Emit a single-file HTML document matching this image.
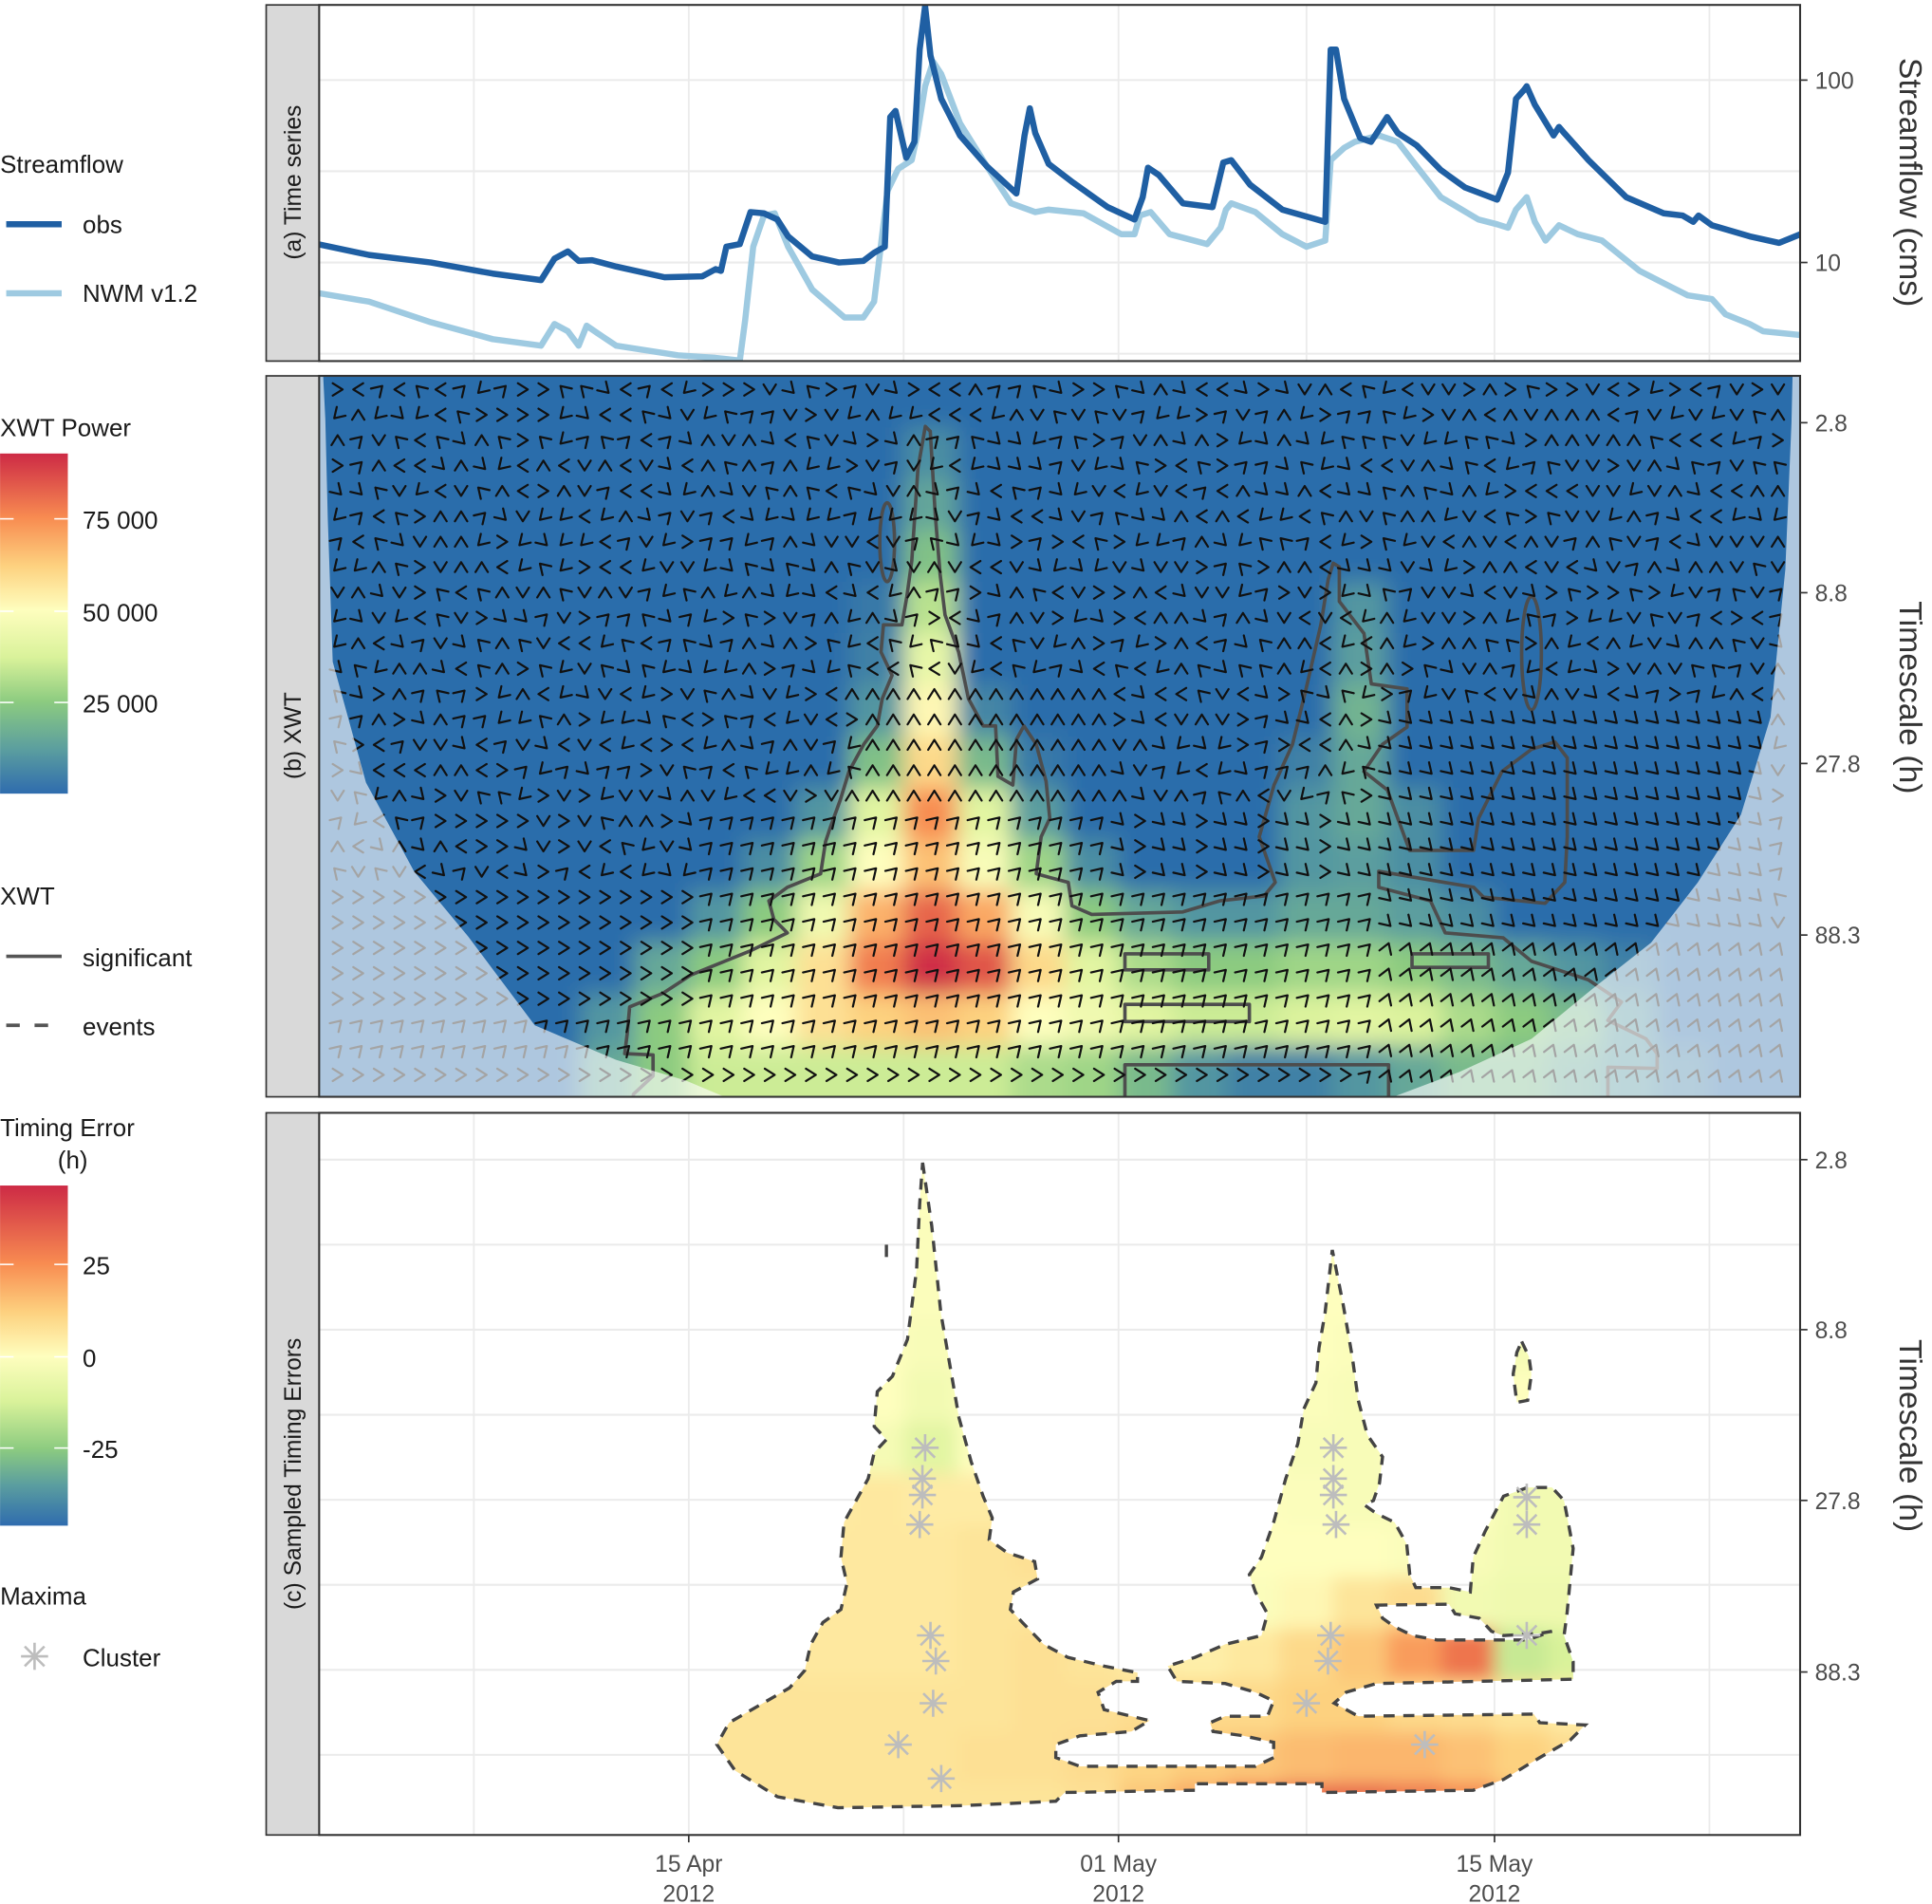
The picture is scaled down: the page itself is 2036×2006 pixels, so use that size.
<!DOCTYPE html>
<html><head><meta charset="utf-8">
<style>
html,body{margin:0;padding:0;background:#fff;}
svg{display:block;font-family:"Liberation Sans",sans-serif;}
</style></head>
<body>
<svg id="chart" width="2036" height="2006" viewBox="0 0 1568 1545" xmlns="http://www.w3.org/2000/svg">
<defs>
<filter id="blurB" x="-5%" y="-5%" width="110%" height="110%"><feGaussianBlur stdDeviation="9"/></filter>
<filter id="blurC" x="-5%" y="-5%" width="110%" height="110%"><feGaussianBlur stdDeviation="7"/></filter>
<clipPath id="clipA"><rect x="259" y="4" width="1202" height="289"/></clipPath>
<clipPath id="clipB"><rect x="259" y="305" width="1202" height="585"/></clipPath>
<clipPath id="clipC"><path id="clipCPath" clip-rule="evenodd" d=""/></clipPath>
<linearGradient id="gradPow" x1="0" y1="1" x2="0" y2="0">
<stop offset="0" stop-color="#2f6cae"/><stop offset="0.13" stop-color="#5b9e9f"/><stop offset="0.27" stop-color="#8ccb80"/><stop offset="0.4" stop-color="#d9f29a"/><stop offset="0.54" stop-color="#fefebe"/><stop offset="0.67" stop-color="#fdd17f"/><stop offset="0.81" stop-color="#f88c51"/><stop offset="1" stop-color="#cd2a45"/>
</linearGradient>
<linearGradient id="gradErr" x1="0" y1="1" x2="0" y2="0">
<stop offset="0" stop-color="#2f6cae"/><stop offset="0.12" stop-color="#5b9e9f"/><stop offset="0.225" stop-color="#8ccb80"/><stop offset="0.365" stop-color="#d9f29a"/><stop offset="0.497" stop-color="#fefebe"/><stop offset="0.628" stop-color="#fdd17f"/><stop offset="0.77" stop-color="#f88c51"/><stop offset="1" stop-color="#cd2a45"/>
</linearGradient>
</defs>
<rect x="0" y="0" width="1568" height="1545" fill="#fff"/>

<rect x="216" y="4" width="43" height="289" fill="#d9d9d9" stroke="#333" stroke-width="1.3"/>
<rect x="216" y="305" width="43" height="585" fill="#d9d9d9" stroke="#333" stroke-width="1.3"/>
<rect x="216" y="903" width="43" height="586" fill="#d9d9d9" stroke="#333" stroke-width="1.3"/>
<text transform="translate(244,148) rotate(-90)" text-anchor="middle" font-size="19" fill="#1a1a1a">(a) Time series</text>
<text transform="translate(244,597) rotate(-90)" text-anchor="middle" font-size="19" fill="#1a1a1a">(b) XWT</text>
<text transform="translate(244,1196) rotate(-90)" text-anchor="middle" font-size="19" fill="#1a1a1a">(c) Sampled Timing Errors</text>

<g id="panelA"></g>
<g id="panelB"></g>
<g id="panelC"></g>

<text transform="translate(1542,148) rotate(90)" text-anchor="middle" font-size="26" fill="#333">Streamflow (cms)</text>
<text transform="translate(1542,566) rotate(90)" text-anchor="middle" font-size="26" fill="#333">Timescale (h)</text>
<text transform="translate(1542,1165) rotate(90)" text-anchor="middle" font-size="26" fill="#333">Timescale (h)</text>

<g font-size="20" fill="#1a1a1a">
<text x="0" y="140">Streamflow</text>
<line x1="5" y1="182" x2="50" y2="182" stroke="#1f5fa3" stroke-width="5"/>
<text x="67" y="189">obs</text>
<line x1="5" y1="238" x2="50" y2="238" stroke="#9ecae1" stroke-width="5"/>
<text x="67" y="245">NWM v1.2</text>
</g>
<g font-size="20" fill="#1a1a1a">
<text x="0" y="354">XWT Power</text>
<rect x="0" y="368" width="55" height="276" fill="url(#gradPow)"/>
<g stroke="#fff" stroke-width="1.2"><line x1="0" y1="421" x2="11" y2="421"/><line x1="44" y1="421" x2="55" y2="421"/><line x1="0" y1="496" x2="11" y2="496"/><line x1="44" y1="496" x2="55" y2="496"/><line x1="0" y1="570" x2="11" y2="570"/><line x1="44" y1="570" x2="55" y2="570"/></g>
<text x="67" y="429">75 000</text>
<text x="67" y="504">50 000</text>
<text x="67" y="578">25 000</text>
</g>
<g font-size="20" fill="#1a1a1a">
<text x="0" y="734">XWT</text>
<line x1="5" y1="776" x2="50" y2="776" stroke="#555" stroke-width="2.8"/>
<text x="67" y="784">significant</text>
<line x1="5" y1="832" x2="50" y2="832" stroke="#555" stroke-width="2.8" stroke-dasharray="11 12"/>
<text x="67" y="840">events</text>
</g>
<g font-size="20" fill="#1a1a1a">
<text x="0" y="922">Timing Error</text>
<text x="59" y="948" text-anchor="middle">(h)</text>
<rect x="0" y="962" width="55" height="276" fill="url(#gradErr)"/>
<g stroke="#fff" stroke-width="1.2"><line x1="0" y1="1026" x2="11" y2="1026"/><line x1="44" y1="1026" x2="55" y2="1026"/><line x1="0" y1="1101" x2="11" y2="1101"/><line x1="44" y1="1101" x2="55" y2="1101"/><line x1="0" y1="1175" x2="11" y2="1175"/><line x1="44" y1="1175" x2="55" y2="1175"/></g>
<text x="67" y="1034">25</text>
<text x="67" y="1109">0</text>
<text x="67" y="1183">-25</text>
</g>
<g font-size="20" fill="#1a1a1a">
<text x="0" y="1302">Maxima</text>
<g stroke="#bdbdbd" stroke-width="2"><line x1="28" y1="1333" x2="28" y2="1355"/><line x1="17" y1="1344" x2="39" y2="1344"/><line x1="20" y1="1336" x2="36" y2="1352"/><line x1="20" y1="1352" x2="36" y2="1336"/></g>
<text x="67" y="1352">Cluster</text>
</g>
</svg>

<script>
// ---------- Panel (a) streamflow data ----------
const obsDays = [0.2,2.1,4.4,6.7,8.5,9.0,9.5,9.9,10.4,11.3,13.1,14.5,15.0,15.2,15.4,15.9,16.3,16.8,17.3,17.7,18.6,19.6,20.5,20.9,21.3,21.5,21.7,22.1,22.4,22.6,22.8,23.0,23.4,24.1,25.1,26.2,26.5,26.7,26.9,27.4,28.3,29.6,30.6,30.9,31.1,31.5,32.4,33.5,33.9,34.2,34.9,36.1,37.7,37.9,38.1,38.4,39.0,39.4,40.0,40.4,41.1,42.0,42.9,44.1,44.5,44.8,45.1,45.2,45.5,46.2,46.4,46.6,47.5,48.9,50.3,51.0,51.4,51.6,52.1,53.5,54.6,55.4];
const obsFlow = [12.6,11.0,10.0,8.7,8.0,10.5,11.5,10.2,10.3,9.5,8.3,8.4,9.2,9.0,12.2,12.6,18.9,18.6,17.2,13.9,10.8,10.0,10.2,11.3,12.2,62.7,67.8,37.5,45.9,147,254,136,79,49.7,33.7,23.9,49.7,70,51.2,34.7,27.5,20.1,17.2,22.8,33.1,30.2,21.1,20.1,35.3,36.4,26.7,19.5,16.7,147,147,79,48.1,45.9,62.7,51.2,43.9,32.1,25.8,22.1,31.1,79,88.3,92.5,73.3,49.7,55.4,51.2,36.4,22.8,18.6,18.1,16.7,18.1,16.0,13.9,12.8,14.3];
const nwmDays = [0.2,2.1,4.4,6.7,8.5,9.0,9.5,9.9,10.2,10.6,11.3,13.6,15.0,15.9,16.1,16.4,16.8,17.2,17.7,18.6,19.8,20.5,20.9,21.4,21.8,22.3,22.5,22.8,23.1,23.4,24.1,25.1,26.0,26.9,27.4,28.7,30.1,30.6,30.8,31.2,31.9,33.3,33.8,34.0,34.2,35.1,36.1,37.0,37.7,37.9,38.4,38.8,39.7,40.4,41.1,42.0,43.4,44.1,44.5,44.8,45.2,45.5,45.9,46.4,47.1,48.0,49.4,50.3,51.2,52.1,52.6,53.5,54.0,55.4];
const nwmFlow = [6.8,6.1,4.7,3.8,3.5,4.6,4.2,3.5,4.5,4.1,3.5,3.1,3.0,2.9,4.8,12.2,18.1,18.6,12.2,7.1,5.0,5.0,6.1,24.7,32.6,36.4,49.7,92.5,126,108,58,33.7,21.1,18.9,19.5,18.6,14.3,14.3,18.1,18.9,14.3,12.6,15.5,19.5,21.1,18.9,14.3,12.2,13.2,36.4,42.5,45.9,49.7,45.9,33.7,22.8,17.2,16.2,15.5,19.5,22.8,16.7,13.2,16.0,14.3,13.2,9.0,7.7,6.6,6.3,5.2,4.6,4.2,4.0];
const flowTicks = [10, 100];
const flowTickLabels = ["10", "100"];

// ---------- Panel (b) XWT power (thousands), 2-day columns x half-octave rows ----------
const powRow0  = [0,0,0,0,0,0,0,0,0,0,0,0,0,0,0,0,0,0,0,0,0,0,0,0,0,0,0,0];
const powRow1  = [0,0,0,0,0,0,0,0,0,0,0,8,0,0,0,0,0,0,0,0,0,0,0,0,0,0,0,0];
const powRow2  = [0,0,0,0,0,0,0,0,0,0,0,14,0,0,0,0,0,0,0,0,0,0,0,0,0,0,0,0];
const powRow3  = [0,0,0,0,0,0,0,0,0,0,0,22,0,0,0,0,0,0,0,0,0,0,0,0,0,0,0,0];
const powRow4  = [0,0,0,0,0,0,0,0,0,0,3,32,0,0,0,0,0,0,0,10,0,0,0,0,0,0,0,0];
const powRow5  = [0,0,0,0,0,0,0,0,0,0,5,42,0,0,0,0,0,0,0,12,0,0,0,0,0,0,0,0];
const powRow6  = [0,0,0,0,0,0,0,0,0,0,10,52,6,0,0,0,0,0,0,18,0,0,0,0,0,0,0,0];
const powRow7  = [0,0,0,0,0,0,0,0,0,0,22,60,20,3,0,0,0,0,5,15,0,0,0,0,0,0,0,0];
const powRow8  = [0,0,0,0,0,0,0,0,0,10,40,75,40,12,0,0,0,0,10,15,8,0,0,0,0,0,0,0];
const powRow9  = [0,0,0,0,0,0,0,0,8,28,50,65,48,28,8,0,0,0,10,12,8,0,0,0,0,0,0,0];
const powRow10 = [0,0,0,0,0,0,0,10,25,45,68,82,70,48,25,15,10,10,15,15,12,8,0,0,0,0,0,0];
const powRow11 = [0,0,0,0,0,0,15,25,40,58,78,92,85,60,40,30,25,25,28,28,25,20,15,10,5,0,0,0];
const powRow12 = [0,0,0,0,0,10,25,40,50,58,62,65,62,50,45,40,35,35,38,40,38,30,25,20,10,0,0,0];
const powRow13 = [0,0,0,0,0,15,25,35,35,35,35,35,35,30,28,20,10,5,5,10,15,20,20,15,10,5,0,0];
const powerRows = [powRow0,powRow1,powRow2,powRow3,powRow4,powRow5,powRow6,powRow7,powRow8,powRow9,powRow10,powRow11,powRow12,powRow13];
const timescaleTicks = [2.8, 8.8, 27.8, 88.3];
const timescaleTickLabels = ["2.8", "8.8", "27.8", "88.3"];

// ---------- Panel (c) sampled timing errors (h) ----------
const errRow0  = [0,0,0,0,0,0,0,0,0,0,0,0,0,0,0,0,0,0,0,0,0,0,0,0,0,0,0,0];
const errRow1  = [0,0,0,0,0,0,0,0,0,0,0,0,0,0,0,0,0,0,0,0,0,0,0,0,0,0,0,0];
const errRow2  = [0,0,0,0,0,0,0,0,0,0,0,-1,0,0,0,0,0,0,0,0,0,0,0,0,0,0,0,0];
const errRow3  = [0,0,0,0,0,0,0,0,0,0,0,-1,0,0,0,0,0,0,0,0,0,0,0,0,0,0,0,0];
const errRow4  = [0,0,0,0,0,0,0,0,0,0,0,-2,0,0,0,0,0,0,0,-1,0,0,-3,0,0,0,0,0];
const errRow5  = [0,0,0,0,0,0,0,0,0,0,0,-4,0,0,0,0,0,0,-1,-2,0,0,0,0,0,0,0,0];
const errRow6  = [0,0,0,0,0,0,0,0,0,0,-3,-9,0,0,0,0,0,0,-2,-2,0,0,-4,-4,0,0,0,0];
const errRow7  = [0,0,0,0,0,0,0,0,0,5,6,5,5,0,0,0,0,0,-1,-2,-2,0,-4,-4,0,0,0,0];
const errRow8  = [0,0,0,0,0,0,0,0,6,6,6,6,7,8,0,0,0,0,0,0,-1,-2,-4,-4,0,0,0,0],
      errRow9  = [0,0,0,0,0,0,0,6,6,6,6,6,7,7,0,0,0,-1,2,7,9,-4,-5,-5,0,0,0,0];
const errRow10 = [0,0,0,0,0,0,6,7,7,6,6,6,7,8,7,5,4,6,10,14,22,30,-15,-12,-10,0,0,0];
const errRow11 = [0,0,0,0,0,7,7,7,7,7,7,7,7,8,8,9,10,10,12,12,10,9,7,5,0,0,0,0];
const errRow12 = [0,0,0,0,7,7,7,7,7,7,7,7,8,8,9,11,13,14,16,17,17,15,12,9,0,0,0,0];
const errRow13 = [0,0,0,0,7,7,7,7,7,7,7,7,7,7,8,14,20,28,33,33,30,26,18,12,0,0,0,0];
const errorRows = [errRow0,errRow1,errRow2,errRow3,errRow4,errRow5,errRow6,errRow7,errRow8,errRow9,errRow10,errRow11,errRow12,errRow13];

const maximaDays    = [22.8,22.7,22.7,22.6,23.0,23.2,23.1,21.8,23.4,38.0,38.0,38.0,38.1,37.9,37.8,37.0,41.4,45.2,45.2,45.2];
const maximaPeriods = [19.5,24.0,26.8,32.7,69,82,109,144,181,19.5,24.0,26.8,32.7,69,82,109,144,27.2,32.7,69];

const dateTickDays = [14, 30, 44];
const dateTickLabels = [["15 Apr","2012"],["01 May","2012"],["15 May","2012"]];
const minorTickDays = [6, 22, 37, 52];

// ---------- scales ----------
const NS = "http://www.w3.org/2000/svg";
const PX_PER_DAY = 21.8;
function xDay(d){ return 259 + (d - 0.24) * PX_PER_DAY; }
function yFlow(v){ return 213 - (Math.log10(v) - 1) * 148; }
function yPerB(p){ return 343 + Math.log2(p / 2.8) * 83.5; }
function yPerC(p){ return 941 + Math.log2(p / 2.8) * 83.5; }
function mk(tag, attrs, parent){
  const el = document.createElementNS(NS, tag);
  for (const k in attrs) el.setAttribute(k, attrs[k]);
  if (parent) parent.appendChild(el);
  return el;
}
function hex(c){ return [parseInt(c.slice(1,3),16),parseInt(c.slice(3,5),16),parseInt(c.slice(5,7),16)]; }
function interp(stops, v){
  if (v <= stops[0][0]) return stops[0][1];
  for (let i=1;i<stops.length;i++){
    if (v <= stops[i][0]){
      const t=(v-stops[i-1][0])/(stops[i][0]-stops[i-1][0]);
      const a=hex(stops[i-1][1]), b=hex(stops[i][1]);
      return "rgb("+a.map((x,k)=>Math.round(x+(b[k]-x)*t)).join(",")+")";
    }
  }
  return stops[stops.length-1][1];
}
const powStops = [[0,"#2c6dab"],[12,"#5b9e9f"],[25,"#8ccb80"],[37,"#d9f29a"],[50,"#fefebe"],[62,"#fdd17f"],[75,"#f88c51"],[92.8,"#cd2a45"]];
const errStops = [[-45.7,"#2f6cae"],[-35,"#5b9e9f"],[-25,"#8ccb80"],[-12,"#d9f29a"],[0,"#fefebe"],[12,"#fdd17f"],[25,"#f88c51"],[46.3,"#cd2a45"]];

// ---------- Panel A ----------
const pA = document.getElementById("panelA");
mk("rect",{x:259,y:4,width:1202,height:289,fill:"#fff"},pA);
const gridA = mk("g",{stroke:"#ebebeb"},pA);


[65,139,213,287].forEach(y=>mk("line",{x1:259,x2:1461,y1:y,y2:y,"stroke-width":1.6},gridA));
dateTickDays.concat(minorTickDays).forEach(d=>mk("line",{x1:xDay(d),x2:xDay(d),y1:4,y2:293,"stroke-width":1.4},gridA));
function linePath(ds, vs){ return ds.map((d,i)=>(i?"L":"M")+xDay(d).toFixed(1)+","+yFlow(vs[i]).toFixed(1)).join(""); }
const gLines = mk("g",{"clip-path":"url(#clipA)"},pA);
const nwmLine = mk("path",{d:linePath(nwmDays,nwmFlow),fill:"none",stroke:"#9ecae1","stroke-width":5,"stroke-linejoin":"round"},gLines);


const obsLine = mk("path",{d:linePath(obsDays,obsFlow),fill:"none",stroke:"#1f5fa3","stroke-width":5,"stroke-linejoin":"round"},gLines);


mk("rect",{x:259,y:4,width:1202,height:289,fill:"none",stroke:"#333","stroke-width":1.6},pA);
flowTicks.forEach((v,i)=>{
  mk("line",{x1:1461,x2:1467,y1:yFlow(v),y2:yFlow(v),stroke:"#333","stroke-width":1.3},pA);
  const t = mk("text",{x:1473,y:yFlow(v)+7,"font-size":19,fill:"#4d4d4d"},pA);
  t.textContent = flowTickLabels[i];
  
  
});

// ---------- Panel B ----------
const pB = document.getElementById("panelB");
const gB = mk("g",{"clip-path":"url(#clipB)"},pB);
mk("rect",{x:259,y:305,width:1202,height:585,fill:"#2c6dab"},gB);
const heatB = mk("g",{filter:"url(#blurB)","shape-rendering":"crispEdges"},gB);


const ROW_H = 585/14;
for (let i=-1;i<=14;i++){
  for (let j=-1;j<=28;j++){
    const ri=Math.max(0,Math.min(13,i)), cj=Math.max(0,Math.min(27,j));
    const v = powerRows[ri][cj];
    const x0 = xDay(2*j), x1 = xDay(2*j+2);
    const c = mk("rect",{x:x0.toFixed(1),y:(305+i*ROW_H).toFixed(1),width:(x1-x0+0.6).toFixed(1),height:(ROW_H+0.6).toFixed(1),fill:interp(powStops,v)},heatB);
    
    
  }
}
const sigMain = [[751,346],[755,350],[759,417],[763,466],[767,499],[778,529],[786,567],[798,589],[808,589],[810,630],[822,637],[825,600],[831,589],[841,604],[849,634],[852,664],[845,679],[841,709],[852,712],[867,716],[870,735],[886,742],[960,740],[990,731],[1026,727],[1035,716],[1022,679],[1034,637],[1049,604],[1060,559],[1072,507],[1078,470],[1082,457],[1087,460],[1087,488],[1107,514],[1113,555],[1142,559],[1142,590],[1122,604],[1107,626],[1126,641],[1144,690],[1196,690],[1200,664],[1219,626],[1243,608],[1262,602],[1272,615],[1272,679],[1270,716],[1254,733],[1204,728],[1196,720],[1119,707],[1119,720],[1161,731],[1173,757],[1220,761],[1243,780],[1289,795],[1316,813],[1305,828],[1336,843],[1345,855],[1345,867],[1305,866],[1305,895],[514,895],[514,888],[530,873],[530,856],[507,855],[509,839],[511,817],[538,806],[561,791],[608,772],[639,757],[628,746],[624,731],[639,720],[666,709],[670,683],[674,671],[682,649],[689,626],[701,604],[712,589],[716,567],[724,548],[715,529],[717,507],[732,507],[736,484],[740,455],[745,380]];
const gSig = mk("g",{fill:"none",stroke:"#4d4d4d","stroke-width":2.8,"stroke-linejoin":"round"},gB);


mk("path",{d:"M"+sigMain.map(p=>p.join(",")).join("L")+"Z"},gSig);
mk("path",{d:"M913,774H981V787H913Z M913,815H1014V829H913Z M1146,774H1208V785H1146Z M913,890V864H1127V890"},gSig);
mk("ellipse",{cx:720,cy:440,rx:6,ry:32},gSig);
mk("ellipse",{cx:1243,cy:530,rx:8,ry:46},gSig);
const coiPts = [[262,300],[264,340],[266,421],[270,537],[297,635],[336,707],[380,760],[434,832],[500,860],[557,877],[588,890],[588,900],[1131,900],[1131,890],[1184,870],[1243,843],[1293,802],[1340,765],[1378,716],[1413,661],[1437,582],[1449,462],[1454,343],[1455,300]];
function hash(a,b){ let h=(a*374761393 + b*668265263)>>>0; h=((h^(h>>>13))*1274126177)>>>0; return (h^(h>>>16))>>>0; }
const gArr = mk("g",{fill:"none",stroke:"#111","stroke-width":1.7,"stroke-linecap":"round","stroke-linejoin":"round"},gB);


let dArr="";
for (let r=0;r<28;r++){
  for (let c=0;c<71;c++){
    const x=274+16.7*c, y=316+20.6*r;
    let ang = (hash(c,r)%8)*45;
    if (r>=12 && r<=16 && x>700 && x<900) ang=90;
    if (r>=17 && x>=560 && x<=1120) ang=45;
    if (r>=20 && x<560) ang = r>=25 ? 45 : 0;
    if (r>=13 && x>1120 && x<1440) ang=-45;
    if (r>=22 && x>1120) ang = 70;
    if (r===27 && x<1100) ang=0;
    if (r>=17 && r<=19 && x>900 && x<1120) ang = (c%3===0)?0:-45;
    const a=ang*Math.PI/180, ca=Math.cos(a), sa=Math.sin(a);
    const tip=[x+4*ca, y-4*sa];
    const b1=[x-4*ca-5*sa, y+4*sa-5*ca];
    const b2=[x-4*ca+5*sa, y+4*sa+5*ca];
    dArr += "M"+b1[0].toFixed(1)+","+b1[1].toFixed(1)+"L"+tip[0].toFixed(1)+","+tip[1].toFixed(1)+"L"+b2[0].toFixed(1)+","+b2[1].toFixed(1);
  }
}
mk("path",{d:dArr},gArr);
const coiOv = mk("path",{d:"M259,305H1461V890H259Z M"+coiPts.map(p=>p.join(",")).join("L")+"Z","fill-rule":"evenodd",fill:"#fff","fill-opacity":0.62},gB);


mk("rect",{x:259,y:305,width:1202,height:585,fill:"none",stroke:"#333","stroke-width":1.6},pB);
timescaleTicks.forEach((p,i)=>{
  mk("line",{x1:1461,x2:1467,y1:yPerB(p),y2:yPerB(p),stroke:"#333","stroke-width":1.3},pB);
  const t=mk("text",{x:1473,y:yPerB(p)+7,"font-size":19,fill:"#4d4d4d"},pB);
  t.textContent=timescaleTickLabels[i];
  
  
});

// ---------- Panel C ----------
const pC = document.getElementById("panelC");
mk("rect",{x:259,y:903,width:1202,height:586,fill:"#fff"},pC);
const gridC = mk("g",{stroke:"#ebebeb"},pC);


for (let k=0;k<8;k++){ const y=941+69*k; mk("line",{x1:259,x2:1461,y1:y,y2:y,"stroke-width":1.6},gridC); }
dateTickDays.concat(minorTickDays).forEach(d=>mk("line",{x1:xDay(d),x2:xDay(d),y1:903,y2:1489,"stroke-width":1.4},gridC));
function zc(p){ return [(562.2+p[0]*0.4911).toFixed(1),(924.1+p[1]*0.3536).toFixed(1)]; }
const outlineZ = [[380,55],[395,200],[410,400],[430,560],[440,640],[460,740],[480,820],[495,870],[490,920],[520,950],[565,970],[570,1010],[530,1040],[525,1080],[545,1110],[580,1160],[620,1190],[680,1210],[735,1225],[735,1245],[700,1245],[670,1270],[680,1310],[755,1335],[725,1360],[640,1370],[600,1390],[600,1420],[640,1440],[930,1440],[960,1420],[960,1385],[910,1370],[860,1360],[855,1340],[880,1325],[950,1325],[960,1290],[930,1270],[880,1250],[800,1245],[785,1210],[830,1190],[880,1160],[940,1140],[950,1090],[930,1040],[920,1000],[940,960],[960,880],[980,780],[1000,700],[1010,620],[1030,560],[1035,480],[1045,400],[1057,255],[1075,380],[1090,500],[1100,600],[1115,680],[1140,730],[1135,790],[1125,830],[1110,840],[1130,860],[1160,880],[1180,930],[1185,1000],[1195,1030],[1250,1030],[1285,1040],[1290,960],[1310,900],[1340,820],[1380,800],[1420,800],[1440,830],[1455,940],[1445,1090],[1440,1140],[1455,1200],[1455,1240],[1300,1245],[1130,1250],[1080,1270],[1060,1295],[1100,1325],[1390,1320],[1400,1340],[1475,1345],[1450,1380],[1400,1420],[1340,1470],[1290,1495],[1040,1500],[1040,1480],[830,1480],[830,1495],[615,1500],[600,1520],[450,1530],[240,1535],[140,1510],[70,1450],[40,1390],[60,1340],[110,1300],[160,1260],[185,1220],[195,1160],[215,1110],[245,1080],[255,1020],[245,960],[250,880],[270,830],[290,780],[300,720],[320,690],[300,660],[305,580],[330,545],[355,460],[370,300],[375,150]];
const holeZ = [[1130,1070],[1250,1068],[1260,1090],[1300,1100],[1320,1130],[1340,1140],[1400,1135],[1420,1130],[1380,1150],[1230,1150],[1190,1140],[1160,1120],[1140,1100]];
const islandZ = [[1370,465],[1382,500],[1386,540],[1380,600],[1362,605],[1356,540],[1362,490]];
function pathZ(pts){ return "M"+pts.map(p=>zc(p).join(",")).join("L")+"Z"; }
const shapeD = pathZ(outlineZ)+" "+pathZ(holeZ)+" "+pathZ(islandZ);
document.getElementById("clipCPath").setAttribute("d", shapeD);
const gCc = mk("g",{"clip-path":"url(#clipC)"},pC);
const heatC = mk("g",{filter:"url(#blurC)","shape-rendering":"crispEdges"},gCc);


const ROW_HC = 586/14;
for (let i=-1;i<=14;i++){
  for (let j=-1;j<=28;j++){
    const ri=Math.max(0,Math.min(13,i)), cj=Math.max(0,Math.min(27,j));
    const v = errorRows[ri][cj];
    const x0=xDay(2*j), x1=xDay(2*j+2);
    const c=mk("rect",{x:x0.toFixed(1),y:(903+i*ROW_HC).toFixed(1),width:(x1-x0+0.6).toFixed(1),height:(ROW_HC+0.6).toFixed(1),fill:interp(errStops,v)},heatC);
    
    
  }
}
const evOut = mk("path",{d:shapeD,fill:"none",stroke:"#444","stroke-width":2.6,"stroke-dasharray":"9 7"},pC);


const tiny = mk("line",{x1:719.4,y1:1010,x2:719.4,y2:1020,stroke:"#444","stroke-width":2.6},pC);


const gMax = mk("g",{stroke:"#bdbdbd","stroke-width":2},pC);


maximaDays.forEach((d,i)=>{
  const x=xDay(d), y=yPerC(maximaPeriods[i]), r=11;
  const s=mk("path",{d:`M${x},${y-r}V${y+r}M${x-r},${y}H${x+r}M${x-8},${y-8}L${x+8},${y+8}M${x-8},${y+8}L${x+8},${y-8}`},gMax);
  
  
});
mk("rect",{x:259,y:903,width:1202,height:586,fill:"none",stroke:"#333","stroke-width":1.6},pC);
timescaleTicks.forEach((p,i)=>{
  mk("line",{x1:1461,x2:1467,y1:yPerC(p),y2:yPerC(p),stroke:"#333","stroke-width":1.3},pC);
  const t=mk("text",{x:1473,y:yPerC(p)+7,"font-size":19,fill:"#4d4d4d"},pC);
  t.textContent=timescaleTickLabels[i];
  
  
});
dateTickDays.forEach((d,i)=>{
  const x=xDay(d);
  mk("line",{x1:x,x2:x,y1:1489,y2:1495,stroke:"#333","stroke-width":1.3},pC);
  const t1=mk("text",{x:x,y:1519,"font-size":19,fill:"#4d4d4d","text-anchor":"middle"},pC);
  t1.textContent=dateTickLabels[i][0];
  
  
  const t2=mk("text",{x:x,y:1543,"font-size":19,fill:"#4d4d4d","text-anchor":"middle"},pC);
  t2.textContent=dateTickLabels[i][1];
  
  
});
</script>
</body></html>
